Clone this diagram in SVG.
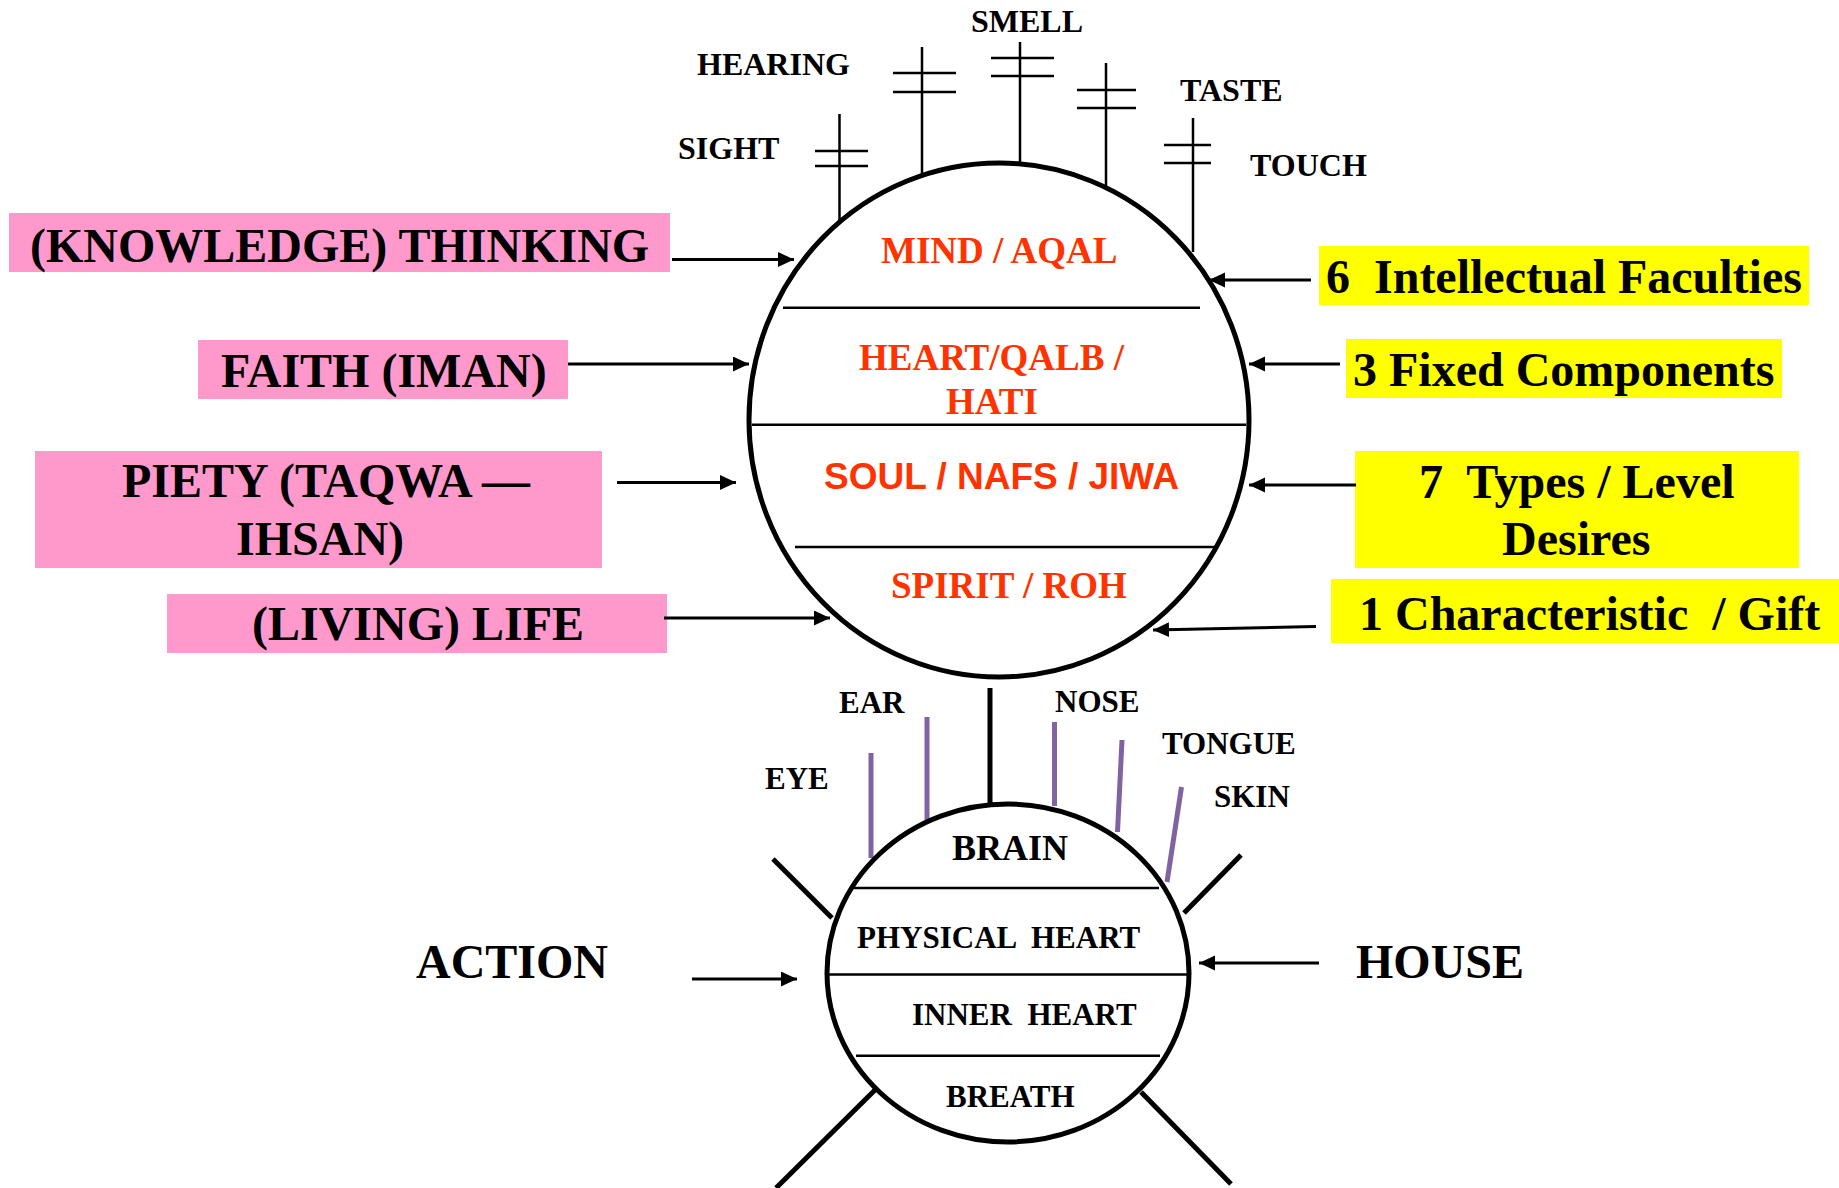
<svg xmlns="http://www.w3.org/2000/svg" width="1839" height="1188" viewBox="0 0 1839 1188">
<style>
.ser{font-family:"Liberation Serif","Times New Roman",serif;font-weight:bold;fill:#000}
.sans{font-family:"Liberation Sans",Arial,sans-serif;font-weight:bold}
.red{fill:#FF3300}
.sense{font-size:32px}
.layer{font-size:37px}
.big{font-size:48px}
.organ{font-size:31px}
.pink{fill:#FF99CC}
.yel{fill:#FFFF00}
.thin{stroke:#000;stroke-width:2.5;fill:none}
.conn{stroke:#000;stroke-width:3;fill:none}
.outline{stroke:#000;stroke-width:5;fill:#fff}
.spoke{stroke:#000;stroke-width:5;fill:none}
.purple{stroke:#8064A2;stroke-width:5;fill:none}
</style>
<defs>
<marker id="ah" markerUnits="userSpaceOnUse" markerWidth="17" markerHeight="16" refX="16" refY="7.5" orient="auto">
<path d="M0,0 L16,7.5 L0,15 z" fill="#000"/>
</marker>
</defs>
<rect width="1839" height="1188" fill="#fff"/>

<!-- Sense antennae on top of the big circle -->
<g id="sense-lines">
<path class="thin" d="M839.5,114 V220 M815,151 H868 M815,166 H868"/>
<path class="thin" d="M922,47 V178 M893,73 H956 M893,92 H956"/>
<path class="thin" d="M1020,42 V163 M991,58 H1054 M991,76 H1054"/>
<path class="thin" d="M1106,63 V195 M1077,90 H1136 M1077,108 H1136"/>
<path class="thin" d="M1193,118 V252 M1164,145 H1211 M1164,163 H1211"/>
</g>
<g id="sense-labels">
<text class="ser sense" x="678" y="159">SIGHT</text>
<text class="ser sense" x="697" y="75">HEARING</text>
<text class="ser sense" x="971" y="32">SMELL</text>
<text class="ser sense" x="1180" y="101">TASTE</text>
<text class="ser sense" x="1250" y="176">TOUCH</text>
</g>

<!-- Big circle -->
<g id="mind-circle">
<ellipse class="outline" cx="999" cy="420" rx="250" ry="257"/>
<path class="thin" d="M783,307.7 H1200 M752,424.8 H1246 M795,547 H1215"/>
<text class="ser red layer" x="881" y="263">MIND / AQAL</text>
<text class="ser red layer" x="859" y="370">HEART/QALB /</text>
<text class="ser red layer" x="946" y="414">HATI</text>
<text class="sans red layer" x="824" y="489">SOUL / NAFS / JIWA</text>
<text class="ser red layer" x="891" y="598">SPIRIT / ROH</text>
</g>

<!-- Left pink boxes -->
<g id="box-thinking">
<rect class="pink" x="9" y="213" width="661" height="59"/>
<text class="ser big" x="30" y="262">(KNOWLEDGE) THINKING</text>
</g>
<g id="box-faith">
<rect class="pink" x="198" y="340" width="370" height="59"/>
<text class="ser big" x="221" y="387">FAITH (IMAN)</text>
</g>
<g id="box-piety">
<rect class="pink" x="35" y="451" width="567" height="117"/>
<text class="ser big" x="122" y="497">PIETY (TAQWA —</text>
<text class="ser big" x="236" y="555">IHSAN)</text>
</g>
<g id="box-life">
<rect class="pink" x="167" y="594" width="500" height="59"/>
<text class="ser big" x="252" y="640">(LIVING) LIFE</text>
</g>

<!-- Right yellow boxes -->
<g id="box-intellectual">
<rect class="yel" x="1319" y="246" width="490" height="59"/>
<text class="ser big" x="1326" y="293" xml:space="preserve">6  Intellectual Faculties</text>
</g>
<g id="box-fixed">
<rect class="yel" x="1346" y="339" width="436" height="59"/>
<text class="ser big" x="1353" y="386">3 Fixed Components</text>
</g>
<g id="box-types">
<rect class="yel" x="1355" y="451" width="444" height="117"/>
<text class="ser big" x="1419" y="498" xml:space="preserve">7  Types / Level</text>
<text class="ser big" x="1502" y="555">Desires</text>
</g>
<g id="box-characteristic">
<rect class="yel" x="1331" y="579" width="508" height="64"/>
<text class="ser big" x="1359" y="630" xml:space="preserve">1 Characteristic  / Gift</text>
</g>

<!-- Lower body circle -->
<g id="body-spokes">
<line class="spoke" x1="773" y1="859" x2="832" y2="918"/>
<line class="spoke" x1="877" y1="1088" x2="776" y2="1188"/>
<line class="spoke" x1="1241" y1="855" x2="1184" y2="913"/>
<line class="spoke" x1="1141" y1="1092" x2="1231" y2="1184"/>
</g>
<g id="organ-lines">
<line class="purple" x1="871" y1="753" x2="871" y2="858"/>
<line class="purple" x1="927" y1="717" x2="927" y2="822"/>
<line class="purple" x1="1054.5" y1="722" x2="1054.5" y2="806"/>
<line class="purple" x1="1122" y1="740" x2="1117.5" y2="832"/>
<line class="purple" x1="1181.5" y1="787" x2="1167" y2="882"/>
</g>
<g id="body-circle">
<ellipse class="outline" cx="1008" cy="973" rx="181" ry="169" style="fill:none"/>
<path class="thin" d="M853,888 H1159 M828,974.5 H1187 M856,1055.7 H1160"/>
<text class="ser" style="font-size:36px" x="952" y="860">BRAIN</text>
<text class="ser organ" x="857" y="948" xml:space="preserve">PHYSICAL  HEART</text>
<text class="ser organ" x="912" y="1025" xml:space="preserve">INNER  HEART</text>
<text class="ser organ" x="946" y="1107">BREATH</text>
</g>
<g id="organ-labels">
<text class="ser organ" x="765" y="789">EYE</text>
<text class="ser organ" x="839" y="713">EAR</text>
<text class="ser organ" x="1055" y="712">NOSE</text>
<text class="ser organ" x="1162" y="754">TONGUE</text>
<text class="ser organ" x="1214" y="807">SKIN</text>
</g>
<g id="action">
<text class="ser big" x="416" y="978">ACTION</text>
</g>
<g id="house">
<text class="ser big" x="1356" y="978">HOUSE</text>
</g>

<!-- Connectors -->
<g id="connectors">
<line class="spoke" x1="990" y1="688" x2="990" y2="803"/>
<line class="conn" x1="672" y1="259.5" x2="794" y2="259.5" marker-end="url(#ah)"/>
<line class="conn" x1="568" y1="364" x2="749" y2="364" marker-end="url(#ah)"/>
<line class="conn" x1="617" y1="482.5" x2="736" y2="482.5" marker-end="url(#ah)"/>
<line class="conn" x1="664" y1="618" x2="830" y2="618" marker-end="url(#ah)"/>
<line class="conn" x1="1311" y1="280" x2="1209" y2="280" marker-end="url(#ah)"/>
<line class="conn" x1="1340" y1="364" x2="1249" y2="364" marker-end="url(#ah)"/>
<line class="conn" x1="1356" y1="485" x2="1249" y2="485" marker-end="url(#ah)"/>
<line class="conn" x1="1316" y1="626.5" x2="1153" y2="630" marker-end="url(#ah)"/>
<line class="conn" x1="692" y1="979" x2="797" y2="979" marker-end="url(#ah)"/>
<line class="conn" x1="1319" y1="963" x2="1199" y2="963" marker-end="url(#ah)"/>
</g>
</svg>
